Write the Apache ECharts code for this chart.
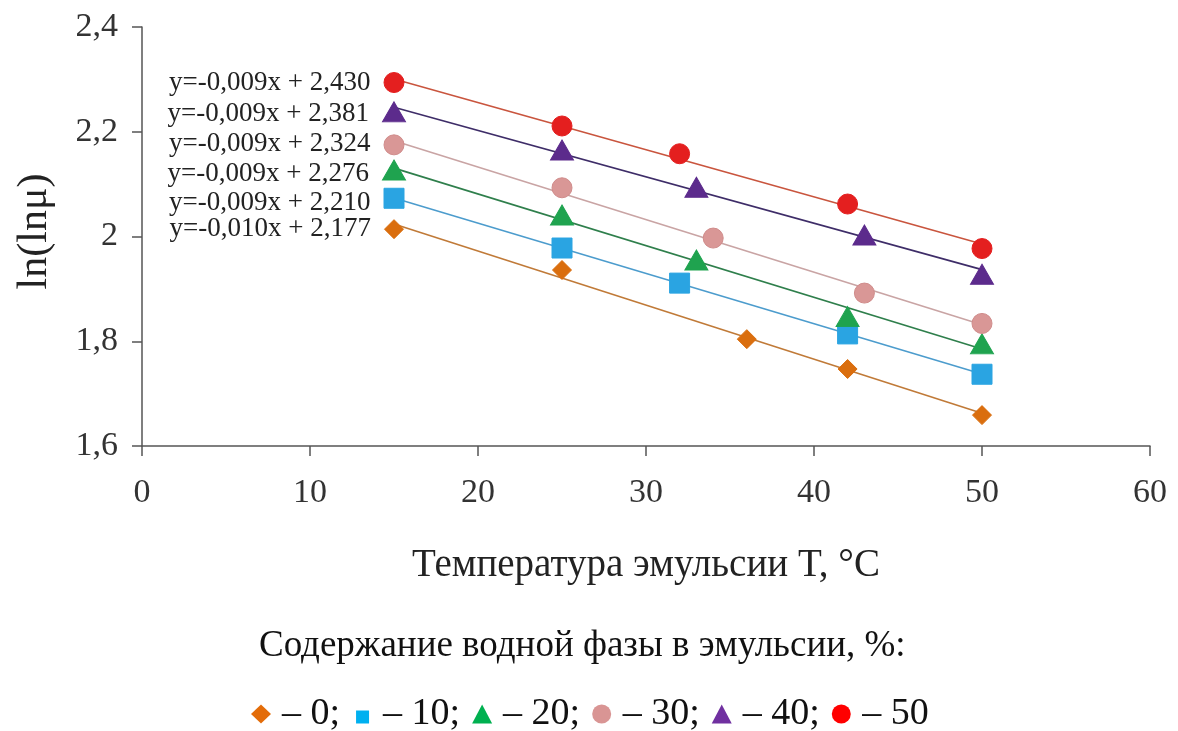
<!DOCTYPE html>
<html>
<head>
<meta charset="utf-8">
<script src="https://cdn.jsdelivr.net/npm/echarts@6/dist/echarts.min.js"></script>
<style>
  html, body { margin: 0; padding: 0; background: #fff; }
  #chart { width: 1178px; height: 731px; }
</style>
</head>
<body>
<div id="chart"></div>
<script>
// Water content in the emulsion, % (series names)
const waterContent = ['0', '10', '20', '30', '40', '50'];

// Temperature points, °C, for each series
const temp0  = [15, 25, 36, 42, 50];
const temp10 = [15, 25, 32, 42, 50];
const temp20 = [15, 25, 33, 42, 50];
const temp30 = [15, 25, 34, 43, 50];
const temp40 = [15, 25, 33, 43, 50];
const temp50 = [15, 25, 32, 42, 50];

// ln(ln μ) values for each series
const lnln0  = [2.014, 1.936, 1.804, 1.747, 1.659];
const lnln10 = [2.073, 1.978, 1.911, 1.814, 1.737];
const lnln20 = [2.127, 2.041, 1.955, 1.847, 1.795];
const lnln30 = [2.175, 2.093, 1.997, 1.892, 1.834];
const lnln40 = [2.238, 2.165, 2.094, 2.003, 1.928];
const lnln50 = [2.294, 2.211, 2.158, 2.062, 1.977];

// Trend line equations shown next to each series
const equations = [
  'y=-0,010x + 2,177',
  'y=-0,009x + 2,210',
  'y=-0,009x + 2,276',
  'y=-0,009x + 2,324',
  'y=-0,009x + 2,381',
  'y=-0,009x + 2,430'
];

// Axis ticks
const xTicks = [0, 10, 20, 30, 40, 50, 60];
const yTicks = [1.6, 1.8, 2.0, 2.2, 2.4];

const temps = [temp0, temp10, temp20, temp30, temp40, temp50];
const values = [lnln0, lnln10, lnln20, lnln30, lnln40, lnln50];

const symbols = ['diamond', 'rect', 'triangle', 'circle', 'triangle', 'circle'];
const symbolSizes = [[19, 19], [20, 20], [23, 20], [20, 20], [23, 20], [20, 20]];
const markerColors = ['#DA6E0E', '#2AA4E2', '#1FA34F', '#D99796', '#5C2B8C', '#E41F1F'];
const lineColors = ['#C07A38', '#4C9CCD', '#2F7F4C', '#C9A4A4', '#3E2D68', '#C9553E'];
const legendColors = ['#E36C09', '#00B0F0', '#00B050', '#D99594', '#7030A0', '#FF0000'];
const labelOffsets = [[0, 0], [0, 5], [0, 4], [0, -1], [0, 2], [0, 0]];

// Legend icons; the square is drawn smaller inside its icon box
const legendIcons = [
  'diamond',
  'path://M0,0L0,0M20,19L20,19M4,6L17,6L17,19L4,19Z',
  'triangle',
  'circle',
  'triangle',
  'circle'
];

const serif = '"Liberation Serif", "DejaVu Serif", serif';

// Least-squares straight line through a series
function fitLine(xs, ys) {
  const n = xs.length;
  let sx = 0, sy = 0, sxx = 0, sxy = 0;
  for (let i = 0; i < n; i++) {
    sx += xs[i]; sy += ys[i]; sxx += xs[i] * xs[i]; sxy += xs[i] * ys[i];
  }
  const k = (n * sxy - sx * sy) / (n * sxx - sx * sx);
  const b = (sy - k * sx) / n;
  return { k, b };
}

const series = [];

// Trend lines (drawn first, under the markers)
waterContent.forEach((name, i) => {
  const xs = temps[i];
  const { k, b } = fitLine(xs, values[i]);
  const x0 = xs[0], x1 = xs[xs.length - 1];
  series.push({
    name: 'trend-' + name,
    type: 'line',
    data: [[x0, k * x0 + b], [x1, k * x1 + b]],
    showSymbol: false,
    symbol: 'none',
    silent: true,
    z: 1,
    lineStyle: { color: lineColors[i], width: 1.6 }
  });
});

// Measured points
waterContent.forEach((name, i) => {
  const data = temps[i].map((t, j) => {
    const item = { value: [t, values[i][j]] };
    if (j === 0) {
      item.label = {
        show: true,
        position: 'left',
        distance: 13,
        offset: labelOffsets[i],
        formatter: equations[i],
        color: '#222',
        fontFamily: serif,
        fontSize: 27
      };
    }
    return item;
  });
  series.push({
    name: name,
    type: 'scatter',
    symbol: symbols[i],
    symbolSize: symbolSizes[i],
    z: 3,
    itemStyle: {
      color: markerColors[i],
      opacity: 1,
      borderColor: i === 3 ? '#D08C8B' : markerColors[i],
      borderWidth: 1
    },
    data: data
  });
});

const fmtY = v => String(parseFloat(Number(v).toFixed(1))).replace('.', ',');

const option = {
  backgroundColor: '#ffffff',
  animation: false,
  textStyle: { fontFamily: serif },
  title: {
    text: 'Содержание водной фазы в эмульсии, %:',
    left: 254,
    top: 623,
    textStyle: { fontFamily: serif, fontSize: 37, fontWeight: 'normal', color: '#111' }
  },
  legend: {
    left: 246,
    top: 690,
    itemWidth: 20,
    itemHeight: 19,
    itemGap: 12,
    selectedMode: false,
    data: waterContent.map((name, i) => ({
      name: name,
      icon: legendIcons[i],
      itemStyle: { color: legendColors[i], borderWidth: 0 }
    })),
    formatter: name => (name === waterContent[waterContent.length - 1] ? '– ' + name : '– ' + name + ';'),
    textStyle: { fontFamily: serif, fontSize: 38, color: '#111', padding: [0, 0, 0, 6] }
  },
  grid: {
    left: 142,
    right: 28,
    top: 27,
    bottom: 285,
    containLabel: false,
    outerBoundsMode: 'none'
  },
  xAxis: {
    type: 'value',
    min: xTicks[0],
    max: xTicks[xTicks.length - 1],
    interval: xTicks[1] - xTicks[0],
    name: 'Температура эмульсии T, °C',
    nameLocation: 'middle',
    nameGap: 100,
    nameTextStyle: { fontFamily: serif, fontSize: 39, color: '#222' },
    axisLine: { show: true, onZero: false, lineStyle: { color: '#555', width: 1.5 } },
    axisTick: { show: true, inside: false, length: 10, lineStyle: { color: '#555', width: 1.5 } },
    axisLabel: { fontFamily: serif, fontSize: 34, color: '#333', margin: 30 },
    splitLine: { show: false }
  },
  yAxis: {
    type: 'value',
    min: yTicks[0],
    max: yTicks[yTicks.length - 1],
    interval: 0.2,
    name: 'ln(lnμ)',
    nameLocation: 'middle',
    nameGap: 86,
    nameRotate: 90,
    nameTextStyle: { fontFamily: serif, fontSize: 42, color: '#222', padding: [0, 0, 0, 10] },
    axisLine: { show: true, onZero: false, lineStyle: { color: '#555', width: 1.5 } },
    axisTick: { show: true, inside: false, length: 10, lineStyle: { color: '#555', width: 1.5 } },
    axisLabel: { fontFamily: serif, fontSize: 34, color: '#333', margin: 24, formatter: fmtY },
    splitLine: { show: false }
  },
  series: series
};

const chart = echarts.init(document.getElementById('chart'), null, { renderer: 'canvas' });
chart.setOption(option);
</script>
</body>
</html>
